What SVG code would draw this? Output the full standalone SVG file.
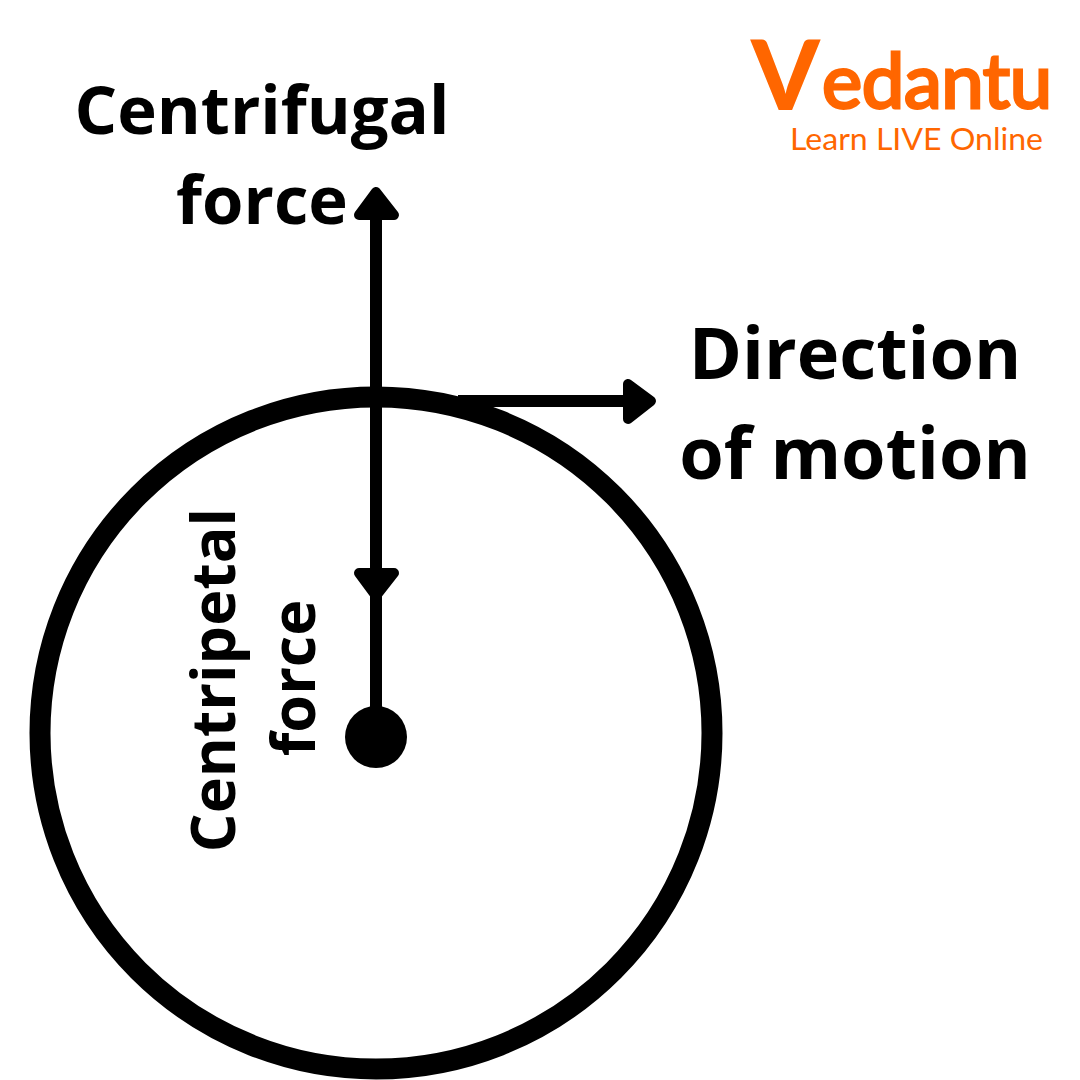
<svg xmlns="http://www.w3.org/2000/svg" width="1080" height="1080" viewBox="0 0 1080 1080">
<style>
.t{font-family:"Open Sans","Noto Sans",sans-serif;font-weight:700;fill:#000;text-anchor:middle}
.a{font-size:67px}
.b{font-size:72px}
.c{font-size:61px}
.l{fill:none;stroke:#000;stroke-width:12}
.h{fill:#000;stroke:#000;stroke-width:10;stroke-linejoin:round}
.o{fill:#ff6600}
</style>
<rect width="1080" height="1080" fill="#fff"/>
<g id="orbit"><circle cx="376" cy="733" r="336" fill="none" stroke="#000" stroke-width="21"/></g>
<g id="center"><circle cx="376" cy="737" r="31" fill="#000"/></g>
<g id="connectors">
<path class="l" d="M376 390V215"/><path class="h" d="M376 192L394 215H359Z"/>
<path class="l" d="M376 405V710"/><path class="h" d="M376 596L359 573H394Z"/>
<path class="l" d="M458 401H630"/><path class="h" d="M651 401L628 384V419Z"/>
</g>
<g id="label-centrifugal"><text class="t a" x="262" y="134">Centrifugal</text><text class="t a" x="262" y="224">force</text></g>
<g id="label-direction"><text class="t b" x="855" y="379">Direction</text><text class="t b" x="855" y="479">of motion</text></g>
<g id="label-centripetal"><text class="t c" transform="translate(235 680) rotate(-90)">Centripetal</text><text class="t c" transform="translate(315 678) rotate(-90)">force</text></g>
<g id="logo">
<text class="o" font-family="Lato,sans-serif"><tspan x="751" y="110" font-size="98" font-weight="900">V</tspan><tspan x="822" y="108" font-size="76" font-weight="400" stroke="#ff6600" stroke-width="3" textLength="230" lengthAdjust="spacing">edantu</tspan></text>
<text class="o" x="790" y="150" font-size="31" font-family="Lato,sans-serif" textLength="253" lengthAdjust="spacingAndGlyphs">Learn LIVE Online</text>
</g>
</svg>
